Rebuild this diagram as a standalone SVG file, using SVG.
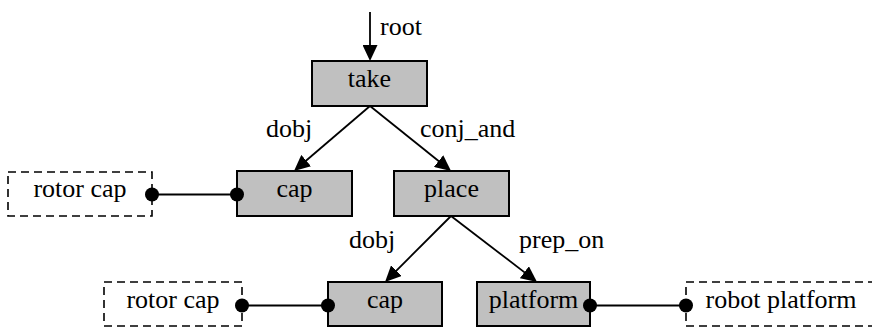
<svg xmlns="http://www.w3.org/2000/svg" width="872" height="327" viewBox="0 0 872 327">
<style>
  text { font-family: "Liberation Serif", "Times New Roman", serif; font-size: 26px; fill: #000; }
  .c { text-anchor: middle; }
  .node rect { fill: #c0c0c0; stroke: #000; stroke-width: 2; }
  .ent rect { fill: #fff; stroke: #000; stroke-width: 1.6; stroke-dasharray: 8 5; }
  .edge { stroke: #000; stroke-width: 1.8; fill: none; }
  .dot { fill: #000; }
</style>
<defs>
  <marker id="arr" viewBox="0 0 16 15" refX="8" refY="7.5" markerWidth="16" markerHeight="15" markerUnits="userSpaceOnUse" orient="auto">
    <path d="M0,0 L16,7.5 L0,15 Z" fill="#000"/>
  </marker>
</defs>
<rect width="872" height="327" fill="#fff"/>

<g id="take" class="node">
  <rect x="312" y="61" width="115" height="45"/>
  <text class="c" x="369.5" y="87">take</text>
</g>
<g id="cap1" class="node">
  <rect x="237" y="171" width="115" height="45"/>
  <text class="c" x="294.5" y="197">cap</text>
</g>
<g id="place" class="node">
  <rect x="394" y="171" width="115" height="45"/>
  <text class="c" x="451.5" y="197">place</text>
</g>
<g id="cap2" class="node">
  <rect x="328" y="282" width="114" height="44"/>
  <text class="c" x="385" y="308">cap</text>
</g>
<g id="platform" class="node">
  <rect x="477" y="282" width="113" height="44"/>
  <text class="c" x="533.5" y="308">platform</text>
</g>
<g id="rotorcap1" class="ent">
  <rect x="8" y="172" width="144" height="44"/>
  <text class="c" x="80" y="197">rotor cap</text>
</g>
<g id="rotorcap2" class="ent">
  <rect x="104" y="282" width="138" height="44"/>
  <text class="c" x="173" y="308">rotor cap</text>
</g>
<g id="robotplatform" class="ent">
  <rect x="686" y="282" width="190" height="44"/>
  <text class="c" x="781" y="308">robot platform</text>
</g>

<g id="connectors">
  <line class="edge" x1="370" y1="12" x2="370" y2="53" marker-end="url(#arr)"/>
  <line class="edge" x1="370" y1="106" x2="300.1" y2="165.8" marker-end="url(#arr)"/>
  <line class="edge" x1="370" y1="106" x2="444.8" y2="166" marker-end="url(#arr)"/>
  <line class="edge" x1="451" y1="216" x2="390.7" y2="276.3" marker-end="url(#arr)"/>
  <line class="edge" x1="451" y1="216" x2="530.7" y2="277.1" marker-end="url(#arr)"/>
  <line class="edge" x1="152" y1="194.5" x2="237" y2="194.5"/>
  <circle class="dot" cx="152" cy="194.5" r="7"/>
  <circle class="dot" cx="237" cy="194.5" r="7"/>
  <line class="edge" x1="242" y1="305.5" x2="328" y2="305.5"/>
  <circle class="dot" cx="242" cy="305.5" r="7"/>
  <circle class="dot" cx="328" cy="305.5" r="7"/>
  <line class="edge" x1="590" y1="305.5" x2="686" y2="305.5"/>
  <circle class="dot" cx="590" cy="305.5" r="7"/>
  <circle class="dot" cx="686" cy="305.5" r="7"/>
  <text x="380" y="35">root</text>
  <text x="266" y="137">dobj</text>
  <text x="420" y="137">conj_and</text>
  <text x="349" y="248">dobj</text>
  <text x="519" y="248">prep_on</text>
</g>
</svg>
